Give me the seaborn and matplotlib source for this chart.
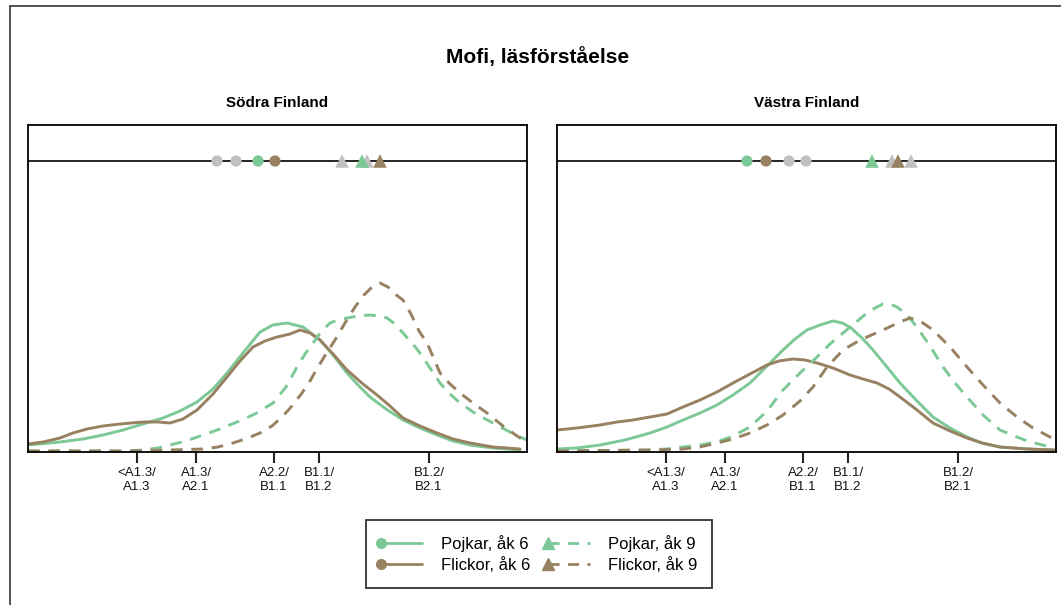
import pandas as pd
import matplotlib.pyplot as plt
from matplotlib.lines import Line2D
from matplotlib.legend_handler import HandlerLine2D
import seaborn as sns

sns.set_theme(style="white")
plt.rcParams['font.family'] = ['Liberation Sans', 'DejaVu Sans']
plt.rcParams['text.color'] = 'black'
plt.rcParams['xtick.color'] = '#111111'

# colours
GREEN = "#7cc897"
BROWN = "#978160"
GREY = "#c0c0c0"

# x axis (scale position) and tick labels
tick_pos = [109, 168, 246, 291, 401]
tick_labels = ["<A1.3/\nA1.3", "A1.3/\nA2.1", "A2.2/\nB1.1", "B1.1/\nB1.2", "B1.2/\nB2.1"]

# ---- Södra Finland: density curves ----
sodra_x_p6 = [0, 32, 55, 75, 95, 115, 135, 152, 169, 185, 199, 215, 232, 245, 259, 275, 292, 305,
              319, 330, 342, 358, 375, 392, 409, 425, 442, 465, 492]
sodra_y_p6 = [6, 9, 12, 16, 21, 27, 33, 40, 49, 62, 78, 98, 119, 126, 128, 124, 111, 96,
              78, 66, 54, 42, 31, 23, 16, 10, 6, 3, 1]
sodra_x_f6 = [0, 15, 32, 45, 59, 75, 92, 115, 130, 142, 155, 169, 185, 199, 212, 225, 237, 249,
              262, 272, 282, 292, 305, 319, 335, 349, 362, 375, 392, 409, 425, 442, 465, 492]
sodra_y_f6 = [7, 9, 13, 18, 22, 25, 27, 29, 29, 28, 32, 41, 57, 74, 90, 104, 110, 114,
              117, 121, 118, 111, 97, 81, 67, 56, 45, 33, 25, 18, 12, 8, 4, 2]
sodra_x_p9 = [0, 60, 100, 115, 130, 142, 158, 175, 192, 209, 227, 245, 258, 269, 277, 285, 293,
              302, 310, 319, 330, 342, 352, 359, 367, 375, 384, 392, 402, 412, 422, 432, 448,
              465, 480, 492, 499]
sodra_y_p9 = [0, 0, 0, 1, 3, 6, 10, 16, 22, 29, 37, 48, 64, 84, 97, 108, 119,
              128, 131, 133, 135, 136, 135, 133, 127, 118, 108, 98, 83, 68, 57, 48, 37,
              28, 20, 14, 11]
sodra_x_f9 = [0, 100, 142, 175, 190, 205, 220, 232, 244, 254, 264, 274, 282, 290, 298, 307, 317,
              327, 336, 344, 352, 360, 367, 375, 383, 391, 399, 406, 412, 422, 432, 445, 459,
              475, 492, 499]
sodra_y_f9 = [0, 0, 1, 2, 4, 8, 13, 18, 25, 34, 45, 58, 70, 84, 97, 111, 128,
              144, 156, 164, 168, 164, 157, 151, 137, 120, 108, 92, 78, 67, 58, 48, 38,
              25, 13, 9]

# ---- Västra Finland: density curves ----
vastra_x_p6 = [0, 20, 43, 68, 93, 110, 126, 143, 160, 176, 193, 210, 226, 238, 250, 263, 276, 285,
               293, 305, 316, 330, 343, 360, 376, 393, 410, 425, 443, 470, 497]
vastra_y_p6 = [2, 3, 6, 11, 18, 24, 31, 38, 46, 56, 68, 85, 101, 112, 121, 126, 130, 128,
               124, 113, 101, 84, 68, 50, 34, 23, 14, 8, 4, 2, 1]
vastra_x_f6 = [0, 20, 43, 60, 76, 93, 110, 126, 143, 160, 176, 193, 210, 222, 236, 248, 260, 276,
               293, 306, 320, 332, 343, 360, 376, 393, 410, 425, 443, 470, 497]
vastra_y_f6 = [21, 23, 26, 29, 31, 34, 37, 44, 51, 59, 68, 77, 86, 90, 92, 91, 88, 83,
               76, 72, 68, 62, 54, 41, 28, 20, 13, 8, 4, 2, 1]
vastra_x_p9 = [0, 90, 110, 126, 143, 160, 176, 193, 210, 226, 243, 260, 273, 286, 298, 310, 318,
               326, 333, 340, 350, 360, 373, 386, 398, 410, 426, 443, 470, 497]
vastra_y_p9 = [0, 1, 2, 4, 6, 9, 15, 24, 40, 61, 78, 94, 107, 118, 128, 138, 143,
               147, 147, 144, 136, 124, 105, 84, 68, 54, 36, 21, 10, 3]
vastra_x_f9 = [0, 100, 126, 143, 160, 176, 193, 210, 226, 243, 256, 270, 286, 298, 310, 326, 343,
               353, 363, 376, 393, 410, 426, 443, 460, 476, 493, 499]
vastra_y_f9 = [0, 1, 2, 4, 8, 12, 18, 26, 36, 50, 64, 84, 101, 108, 114, 121, 129,
               133, 130, 121, 104, 84, 66, 48, 34, 23, 14, 11]

# ---- mean markers on the top line ----
sodra_grey_circles = [189, 208]
sodra_grey_triangles = [314, 339]
sodra_means = [230, 247, 334, 352]      # P6, F6, P9, F9
vastra_grey_circles = [232, 249]
vastra_grey_triangles = [335, 354]
vastra_means = [190, 209, 315, 341]

groups = ["Pojkar, åk 6", "Flickor, åk 6", "Pojkar, åk 9", "Flickor, åk 9"]
palette = {groups[0]: GREEN, groups[1]: BROWN, groups[2]: GREEN, groups[3]: BROWN}
dashes = {groups[0]: "", groups[1]: "", groups[2]: (4, 3), groups[3]: (4, 3)}
MARK_Y = 290


class StartMarkerHandler(HandlerLine2D):
    """Legend line with its marker at the left end."""
    def create_artists(self, *args, **kwargs):
        artists = super().create_artists(*args, **kwargs)
        for a in artists:
            a.set_markevery([0])
        return artists


def curves_frame(xs, ys):
    rows = []
    for g, x, y in zip(groups, xs, ys):
        rows.append(pd.DataFrame({"x": x, "y": y, "group": g}))
    return pd.concat(rows, ignore_index=True)


def draw_panel(ax, title, xs, ys, grey_c, grey_t, means):
    df = curves_frame(xs, ys)
    sns.lineplot(data=df, x="x", y="y", hue="group", style="group",
                 palette=palette, dashes=dashes, linewidth=2.1,
                 legend=False, ax=ax, sort=False)
    ax.axhline(MARK_Y, color="black", lw=1.2, zorder=1)

    # grey markers (other regions) first, coloured ones on top
    sns.scatterplot(x=grey_c, y=[MARK_Y] * len(grey_c), marker="o", color=GREY,
                    s=65, edgecolor="none", ax=ax, zorder=3)
    sns.scatterplot(x=grey_t, y=[MARK_Y] * len(grey_t), marker="^", color=GREY,
                    s=95, edgecolor="none", ax=ax, zorder=3)
    sns.scatterplot(x=means[:2], y=[MARK_Y] * 2, hue=groups[:2], palette=palette,
                    marker="o", s=65, edgecolor="none", legend=False, ax=ax, zorder=4)
    sns.scatterplot(x=means[2:], y=[MARK_Y] * 2, hue=groups[2:], palette=palette,
                    marker="^", s=95, edgecolor="none", legend=False, ax=ax, zorder=4)

    ax.set_xlim(0, 499)
    ax.set_ylim(-1, 326)
    ax.set_xticks(tick_pos)
    ax.set_xticklabels(tick_labels, fontsize=9.5, color="#111111")
    ax.set_yticks([])
    ax.tick_params(axis="x", direction="out", length=8, width=1.5, color="#222222",
                   bottom=True, pad=3)
    ax.set_xlabel("")
    ax.set_ylabel("")
    ax.set_title(title, fontsize=11, fontweight="bold", pad=13)
    for s in ax.spines.values():
        s.set_color("black")
        s.set_linewidth(1.3)


fig = plt.figure(figsize=(10.61, 6.05), dpi=100)
ax1 = fig.add_axes([28 / 1061, 1 - 452 / 605, 499 / 1061, 327 / 605])
ax2 = fig.add_axes([557 / 1061, 1 - 452 / 605, 499 / 1061, 327 / 605])

draw_panel(ax1, "Södra Finland",
           [sodra_x_p6, sodra_x_f6, sodra_x_p9, sodra_x_f9],
           [sodra_y_p6, sodra_y_f6, sodra_y_p9, sodra_y_f9],
           sodra_grey_circles, sodra_grey_triangles, sodra_means)
draw_panel(ax2, "Västra Finland",
           [vastra_x_p6, vastra_x_f6, vastra_x_p9, vastra_x_f9],
           [vastra_y_p6, vastra_y_f6, vastra_y_p9, vastra_y_f9],
           vastra_grey_circles, vastra_grey_triangles, vastra_means)

fig.text(538 / 1061, 1 - 57 / 605, "Mofi, läsförståelse", ha="center", va="center",
         fontsize=15, fontweight="bold")

# outer frame (left and top edges only)
fig.add_artist(Line2D([10 / 1061, 10 / 1061], [0, 1 - 6 / 605], color="#333333", lw=1.2))
fig.add_artist(Line2D([10 / 1061, 1], [1 - 6 / 605, 1 - 6 / 605], color="#333333", lw=1.2))

# legend with the marker at the start of each line
handles = [
    Line2D([], [], color=GREEN, lw=2, marker="o", markersize=7),
    Line2D([], [], color=BROWN, lw=2, marker="o", markersize=7),
    Line2D([], [], color=GREEN, lw=2, ls=(0, (4, 3)), marker="^", markersize=8),
    Line2D([], [], color=BROWN, lw=2, ls=(0, (4, 3)), marker="^", markersize=8),
]
leg = fig.legend(handles, groups, ncol=2, loc="center",
                 bbox_to_anchor=(539 / 1061, 1 - 554 / 605), fontsize=12,
                 frameon=True, fancybox=False, handlelength=2.5, numpoints=1,
                 columnspacing=1.1, handletextpad=1.1, labelspacing=0.3,
                 borderpad=0.9, handler_map={Line2D: StartMarkerHandler()})
leg.get_frame().set_edgecolor("black")
leg.get_frame().set_linewidth(1.3)

fig.savefig("out.png", dpi=100)
